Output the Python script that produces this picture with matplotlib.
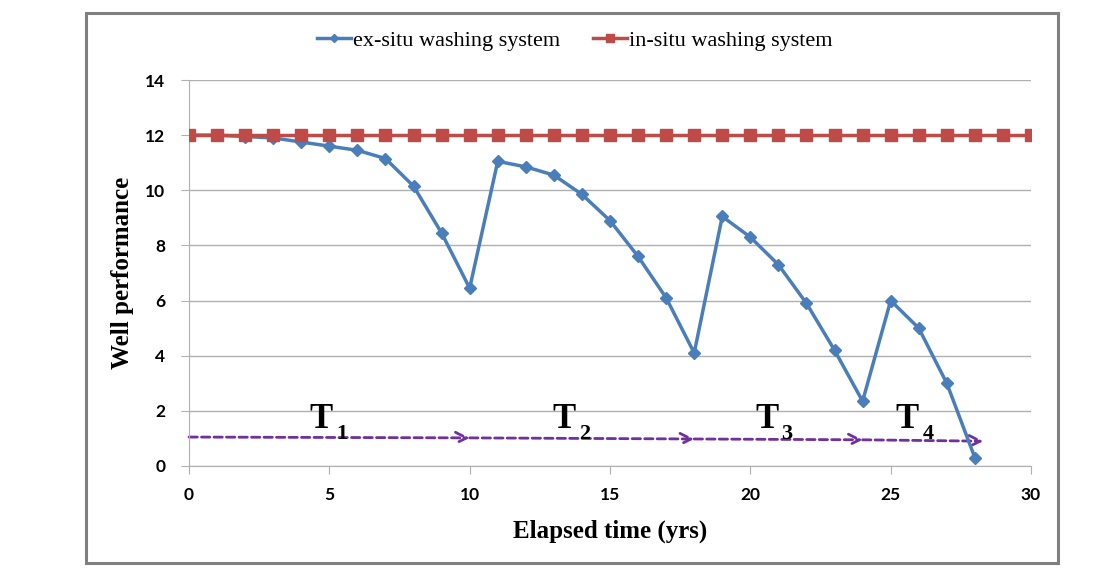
import matplotlib
matplotlib.use("Agg")
import matplotlib.pyplot as plt
from matplotlib.patches import Rectangle

# data
years = list(range(0, 29))
ex_situ = [12.0, 12.0, 11.95, 11.9, 11.75, 11.6, 11.45, 11.15, 10.15, 8.45, 6.45,
           11.05, 10.85, 10.55, 9.85, 8.9, 7.6, 6.1, 4.1,
           9.05, 8.3, 7.3, 5.9, 4.2, 2.35,
           6.0, 5.0, 3.0, 0.3]
in_years = list(range(0, 31))
in_situ = [12.0] * len(in_years)

# period arrows (start, end) and labels
arrow_x = [0, 10, 18, 24, 28.3]
arrow_y = [1.05, 1.02, 0.98, 0.95, 0.9]
t_labels = ["1", "2", "3", "4"]
t_x = [5.13, 13.79, 20.99, 26.01]

fig = plt.figure(figsize=(11.05, 5.76), dpi=100)
fig.patches.append(Rectangle((86 / 1105, 13 / 576), 972 / 1105, 550 / 576,
                             transform=fig.transFigure, fill=False,
                             edgecolor='#808080', linewidth=2.2))
ax = fig.add_axes([189 / 1105, 1 - 466 / 576, (1031 - 189) / 1105, (466 - 80) / 576])

blue = '#4a7ebb'
red = '#be4b48'
ax.plot(years, ex_situ, color=blue, marker='D', markersize=6, linewidth=2.5,
        label='ex-situ washing system', zorder=3)
ax.plot(in_years, in_situ, color=red, marker='s', markersize=8, linewidth=2.5,
        label='in-situ washing system', zorder=4)

for i in range(len(arrow_x) - 1):
    ax.annotate('', xy=(arrow_x[i + 1], arrow_y[i + 1]), xytext=(arrow_x[i], arrow_y[i]),
                arrowprops=dict(arrowstyle='->', color='#7030a0', linestyle=(0, (3, 1.5)),
                                linewidth=2, shrinkA=0, shrinkB=0, mutation_scale=20),
                zorder=2)
for lab, x in zip(t_labels, t_x):
    ax.text(x, 1.38, 'T', family='Liberation Serif', fontweight='bold', fontsize=25,
            ha='right', va='baseline', zorder=5)
    ax.text(x + 0.12, 0.98, lab, family='Liberation Serif', fontweight='bold', fontsize=16,
            ha='left', va='baseline', zorder=5)

ax.set_xlim(0, 30)
ax.set_ylim(0, 14)
ax.set_xticks(range(0, 31, 5))
ax.set_yticks(range(0, 15, 2))
ax.grid(axis='y', color='#b0b0b0', linewidth=1)
ax.set_axisbelow(True)
for s in ['top', 'right']:
    ax.spines[s].set_visible(False)
ax.spines['left'].set_color('#b0b0b0')
ax.spines['bottom'].set_color('#b0b0b0')
ax.tick_params(axis='both', colors='#b0b0b0', labelcolor='black', length=6)
ax.tick_params(axis='y', pad=11)
ax.tick_params(axis='x', pad=9)
for t in ax.get_xticklabels() + ax.get_yticklabels():
    t.set_fontfamily('Lato')
    t.set_fontweight('bold')
    t.set_fontsize(12.5)

ax.set_xlabel('Elapsed time (yrs)', family='Liberation Serif', fontweight='bold', fontsize=18, labelpad=12)
ax.set_ylabel('Well performance', family='Liberation Serif', fontweight='bold', fontsize=18, labelpad=8)

h, l = ax.get_legend_handles_labels()
fig.legend(h, l, loc='center', bbox_to_anchor=(575 / 1105, 1 - 41 / 576), ncol=2,
           frameon=False, prop={'family': 'Liberation Serif', 'size': 16},
           handlelength=1.5, handletextpad=0.1, columnspacing=1.5, markerscale=0.75)

fig.savefig('out.png', dpi=100)
